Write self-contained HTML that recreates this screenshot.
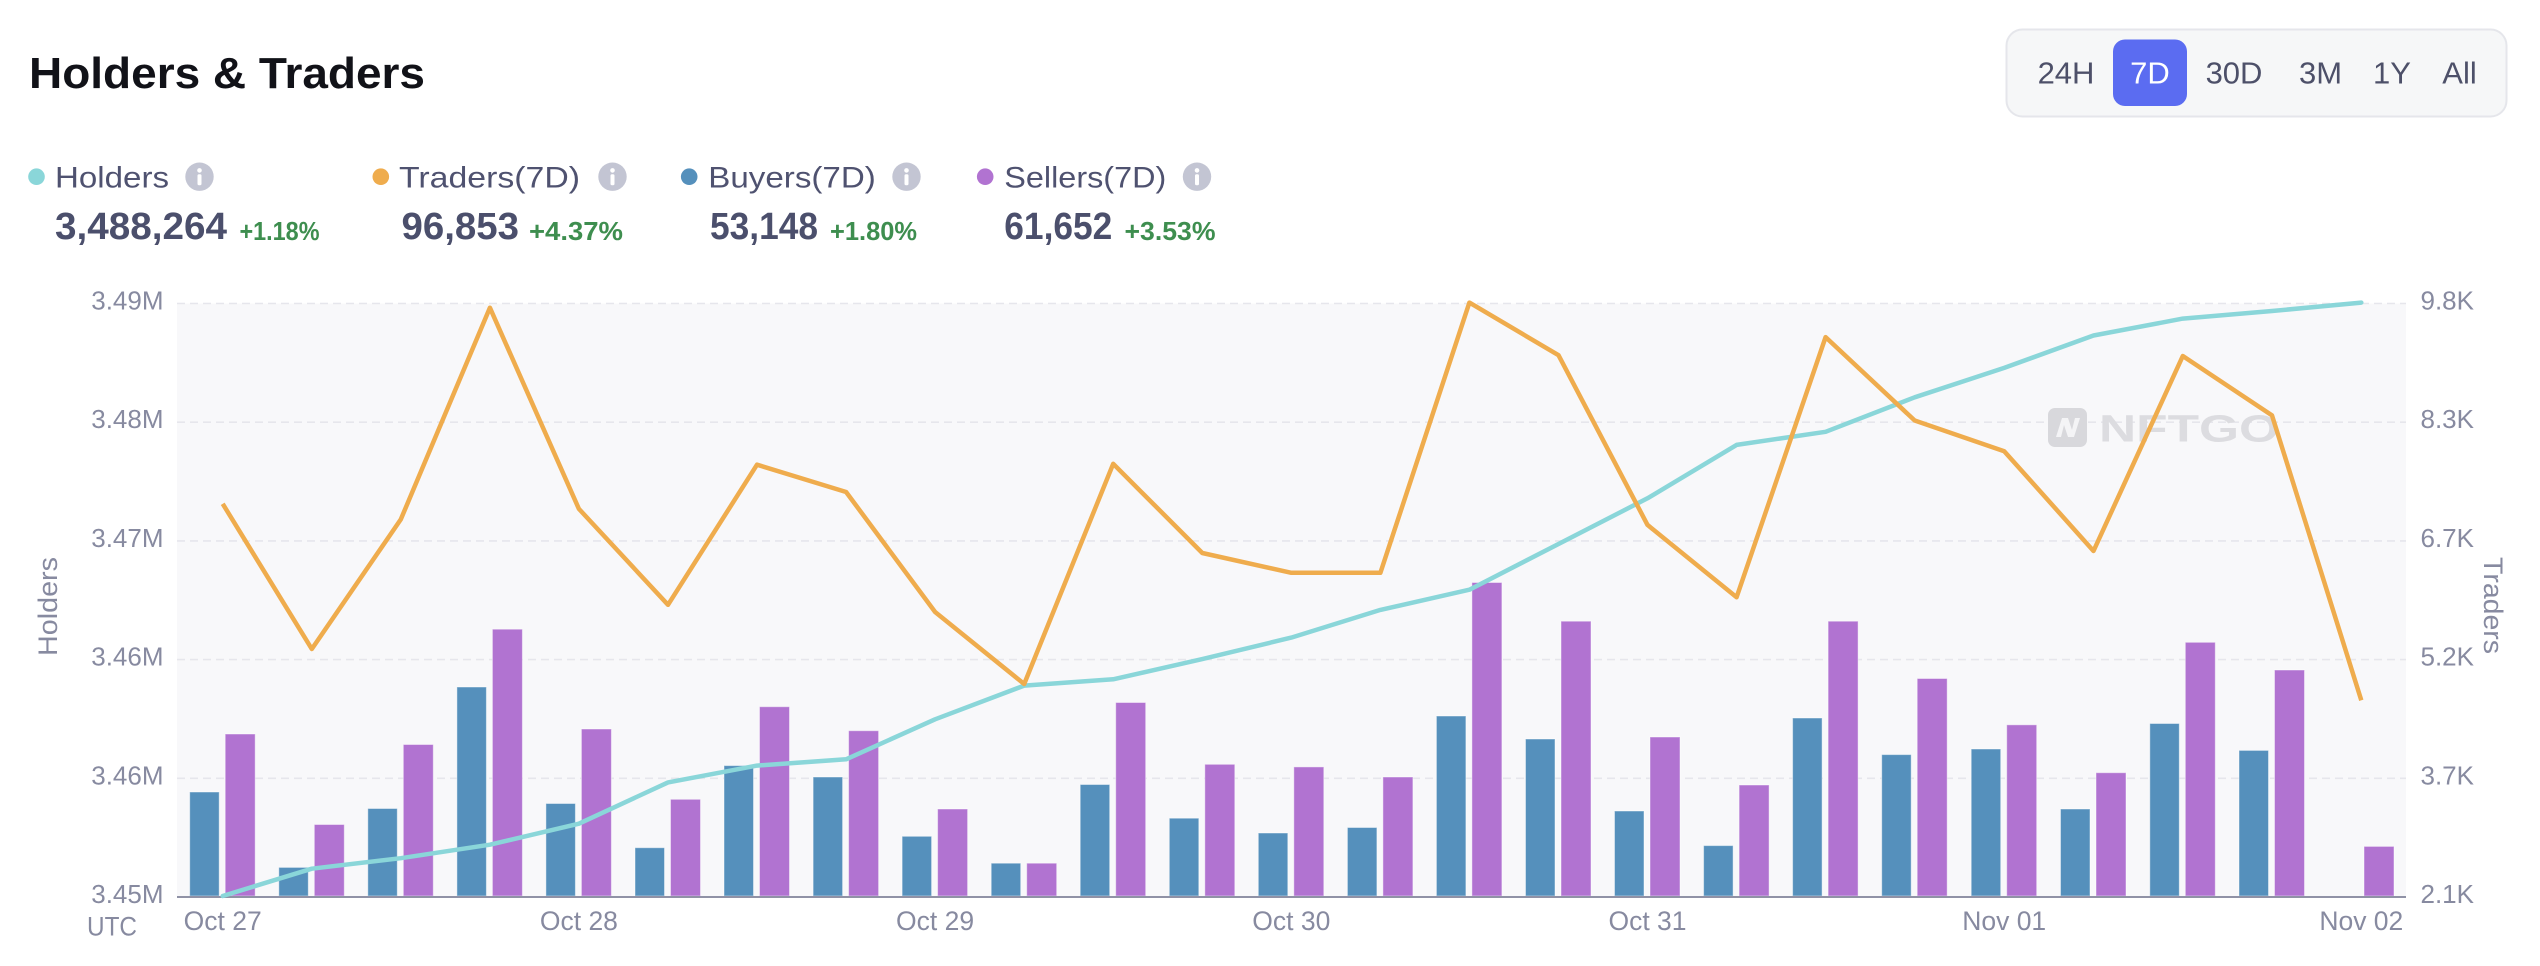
<!DOCTYPE html>
<html>
<head>
<meta charset="utf-8">
<style>
  html, body { margin: 0; padding: 0; background: #ffffff; }
  body { width: 2540px; height: 966px; overflow: hidden; }
  svg { display: block; font-family: "Liberation Sans", Arial, sans-serif; }
</style>
</head>
<body>
<svg width="2540" height="966" viewBox="0 0 2540 966" xmlns="http://www.w3.org/2000/svg">
  <rect x="0" y="0" width="2540" height="966" fill="#ffffff"/>

  <!-- Title -->
  <text x="29" y="88" font-size="44" font-weight="bold" fill="#111218" textLength="396" lengthAdjust="spacingAndGlyphs">Holders &amp; Traders</text>

  <!-- Time range selector -->
  <rect x="2006.5" y="29.5" width="500" height="87" rx="16" ry="16" fill="#f6f7f8" stroke="#e5e6eb" stroke-width="2"/>
  <rect x="2113" y="39.5" width="74" height="66.5" rx="12" ry="12" fill="#5b6cf1"/>
  <g font-size="31" fill="#4d5069" text-anchor="middle">
    <text x="2066" y="83.5">24H</text>
    <text x="2150" y="83.5" fill="#ffffff">7D</text>
    <text x="2234" y="83.5">30D</text>
    <text x="2320.5" y="83.5">3M</text>
    <text x="2392" y="83.5">1Y</text>
    <text x="2459.5" y="83.5">All</text>
  </g>

  <!-- Legend -->
  <g font-size="30" fill="#4f5270">
    <circle cx="36.5" cy="176.7" r="8.3" fill="#8ad6d9"/>
    <text x="55" y="187.3" textLength="114" lengthAdjust="spacingAndGlyphs">Holders</text>
    <circle cx="380.8" cy="176.7" r="8.3" fill="#efac4d"/>
    <text x="399" y="187.3" textLength="181" lengthAdjust="spacingAndGlyphs">Traders(7D)</text>
    <circle cx="689.2" cy="176.7" r="8.3" fill="#5590bc"/>
    <text x="708.3" y="187.3" textLength="167.5" lengthAdjust="spacingAndGlyphs">Buyers(7D)</text>
    <circle cx="985.2" cy="176.7" r="8.3" fill="#b173d1"/>
    <text x="1004.3" y="187.3" textLength="162" lengthAdjust="spacingAndGlyphs">Sellers(7D)</text>
  </g>
  <!-- info icons -->
  <g>
    <g transform="translate(199.5,176.7)">
      <circle r="14.2" fill="#c3c5d3"/><circle cx="0" cy="-6.3" r="2.3" fill="#fff"/><rect x="-2" y="-2.5" width="4" height="11" rx="1.5" fill="#fff"/>
    </g>
    <g transform="translate(612.5,176.7)">
      <circle r="14.2" fill="#c3c5d3"/><circle cx="0" cy="-6.3" r="2.3" fill="#fff"/><rect x="-2" y="-2.5" width="4" height="11" rx="1.5" fill="#fff"/>
    </g>
    <g transform="translate(906.5,176.7)">
      <circle r="14.2" fill="#c3c5d3"/><circle cx="0" cy="-6.3" r="2.3" fill="#fff"/><rect x="-2" y="-2.5" width="4" height="11" rx="1.5" fill="#fff"/>
    </g>
    <g transform="translate(1197,176.7)">
      <circle r="14.2" fill="#c3c5d3"/><circle cx="0" cy="-6.3" r="2.3" fill="#fff"/><rect x="-2" y="-2.5" width="4" height="11" rx="1.5" fill="#fff"/>
    </g>
  </g>
  <!-- values -->
  <g font-weight="bold">
    <text x="55" y="239" font-size="38" fill="#4b4f6c" textLength="172" lengthAdjust="spacingAndGlyphs">3,488,264</text>
    <text x="239.5" y="240" font-size="25.5" fill="#3e8e4f" textLength="80" lengthAdjust="spacingAndGlyphs">+1.18%</text>
    <text x="401.5" y="239" font-size="38" fill="#4b4f6c" textLength="117.5" lengthAdjust="spacingAndGlyphs">96,853</text>
    <text x="529" y="240" font-size="25.5" fill="#3e8e4f" textLength="94" lengthAdjust="spacingAndGlyphs">+4.37%</text>
    <text x="710" y="239" font-size="38" fill="#4b4f6c" textLength="108" lengthAdjust="spacingAndGlyphs">53,148</text>
    <text x="830" y="240" font-size="25.5" fill="#3e8e4f" textLength="87" lengthAdjust="spacingAndGlyphs">+1.80%</text>
    <text x="1004.3" y="239" font-size="38" fill="#4b4f6c" textLength="108" lengthAdjust="spacingAndGlyphs">61,652</text>
    <text x="1124.5" y="240" font-size="25.5" fill="#3e8e4f" textLength="91" lengthAdjust="spacingAndGlyphs">+3.53%</text>
  </g>

  <!-- Plot background -->
  <rect x="177" y="303.5" width="2229" height="593.5" fill="#f8f8fa"/>

  <!-- Grid lines -->
  <g stroke="#e6e6ec" stroke-width="1.6" stroke-dasharray="8 5">
    <line x1="177" y1="303.5" x2="2406" y2="303.5"/>
    <line x1="177" y1="422.2" x2="2406" y2="422.2"/>
    <line x1="177" y1="540.9" x2="2406" y2="540.9"/>
    <line x1="177" y1="659.6" x2="2406" y2="659.6"/>
    <line x1="177" y1="778.3" x2="2406" y2="778.3"/>
  </g>

  <!-- Watermark -->
  <g>
    <rect x="2048" y="408" width="39" height="39" rx="7" fill="#d8d8dc"/>
    <path d="M2056 437 L2062 418 L2068 418 L2072 430 L2075 418 L2080 418 L2074 437 L2068 437 L2064 425 L2061 437 Z" fill="#f4f4f6"/>
    <text x="2099" y="441.5" font-size="38" font-weight="bold" fill="#dcdce0" textLength="180" lengthAdjust="spacingAndGlyphs">NFTGO</text>
  </g>

  <!-- Left axis labels -->
  <g font-size="26" fill="#878aa0" text-anchor="end">
    <text x="163.5" y="309.5">3.49M</text>
    <text x="163.5" y="428.2">3.48M</text>
    <text x="163.5" y="546.9">3.47M</text>
    <text x="163.5" y="665.6">3.46M</text>
    <text x="163.5" y="784.3">3.46M</text>
    <text x="163.5" y="903">3.45M</text>
  </g>
  <text transform="translate(57,606.5) rotate(-90)" font-size="27" fill="#878aa0" text-anchor="middle" textLength="99" lengthAdjust="spacingAndGlyphs">Holders</text>

  <!-- Right axis labels -->
  <g font-size="26" fill="#878aa0" text-anchor="start">
    <text x="2420.5" y="309.5">9.8K</text>
    <text x="2420.5" y="428.2">8.3K</text>
    <text x="2420.5" y="546.9">6.7K</text>
    <text x="2420.5" y="665.6">5.2K</text>
    <text x="2420.5" y="784.3">3.7K</text>
    <text x="2420.5" y="903">2.1K</text>
  </g>
  <text transform="translate(2484,605.5) rotate(90)" font-size="27" fill="#878aa0" text-anchor="middle" textLength="97" lengthAdjust="spacingAndGlyphs">Traders</text>

  <!-- Bars -->
  <g fill="#5590bc" stroke="#ffffff" stroke-opacity="0.45" stroke-width="1">
    <rect x="189.7" y="792" width="29.5" height="104"/>
    <rect x="278.8" y="867.4" width="29.5" height="28.6"/>
    <rect x="367.8" y="808.5" width="29.5" height="87.5"/>
    <rect x="456.9" y="687" width="29.5" height="209"/>
    <rect x="545.9" y="803.5" width="29.5" height="92.5"/>
    <rect x="635" y="847.7" width="29.5" height="48.3"/>
    <rect x="724" y="765.6" width="29.5" height="130.4"/>
    <rect x="813.1" y="777" width="29.5" height="119"/>
    <rect x="902.1" y="836.3" width="29.5" height="59.7"/>
    <rect x="991.2" y="863.2" width="29.5" height="32.8"/>
    <rect x="1080.2" y="784.5" width="29.5" height="111.5"/>
    <rect x="1169.3" y="818.2" width="29.5" height="77.8"/>
    <rect x="1258.3" y="833" width="29.5" height="63"/>
    <rect x="1347.4" y="827.5" width="29.5" height="68.5"/>
    <rect x="1436.4" y="716" width="29.5" height="180"/>
    <rect x="1525.5" y="739" width="29.5" height="157"/>
    <rect x="1614.5" y="811" width="29.5" height="85"/>
    <rect x="1703.6" y="845.6" width="29.5" height="50.4"/>
    <rect x="1792.6" y="718" width="29.5" height="178"/>
    <rect x="1881.7" y="754.6" width="29.5" height="141.4"/>
    <rect x="1971.2" y="749" width="29.5" height="147"/>
    <rect x="2060.5" y="809" width="29.5" height="87"/>
    <rect x="2149.8" y="723.5" width="29.5" height="172.5"/>
    <rect x="2239" y="750.4" width="29.5" height="145.6"/>
  </g>
  <g fill="#b173d1" stroke="#ffffff" stroke-opacity="0.45" stroke-width="1">
    <rect x="225.2" y="734" width="30" height="162"/>
    <rect x="314.3" y="824.5" width="30" height="71.5"/>
    <rect x="403.3" y="744.5" width="30" height="151.5"/>
    <rect x="492.4" y="629.2" width="30" height="266.8"/>
    <rect x="581.4" y="729" width="30" height="167"/>
    <rect x="670.5" y="799.3" width="30" height="96.7"/>
    <rect x="759.5" y="706.7" width="30" height="189.3"/>
    <rect x="848.6" y="730.7" width="30" height="165.3"/>
    <rect x="937.6" y="809" width="30" height="87"/>
    <rect x="1026.7" y="863.2" width="30" height="32.8"/>
    <rect x="1115.7" y="702.5" width="30" height="193.5"/>
    <rect x="1204.8" y="764.3" width="30" height="131.7"/>
    <rect x="1293.8" y="766.9" width="30" height="129.1"/>
    <rect x="1382.9" y="777" width="30" height="119"/>
    <rect x="1471.9" y="582.5" width="30" height="313.5"/>
    <rect x="1561" y="621.2" width="30" height="274.8"/>
    <rect x="1650" y="737" width="30" height="159"/>
    <rect x="1739.1" y="785" width="30" height="111"/>
    <rect x="1828.1" y="621.2" width="30" height="274.8"/>
    <rect x="1917.2" y="678.5" width="30" height="217.5"/>
    <rect x="2006.7" y="724.8" width="30" height="171.2"/>
    <rect x="2096" y="772.7" width="30" height="123.3"/>
    <rect x="2185.3" y="642.3" width="30" height="253.7"/>
    <rect x="2274.5" y="670" width="30" height="226"/>
    <rect x="2364" y="846.4" width="30" height="49.6"/>
  </g>

  <!-- Axis line -->
  <line x1="177" y1="897" x2="2406" y2="897" stroke="#9092a6" stroke-width="2"/>

  <!-- Holders line -->
  <polyline fill="none" stroke="#8ad6d9" stroke-width="4.5" stroke-linejoin="round" stroke-linecap="round"
    points="222.7,896 311.8,868.7 400.8,858.2 489.9,844.7 578.9,823.7 668,782.4 757,765.6 846.1,759.3 935.1,719.3 1024.2,685.6 1113.2,679.3 1202.3,659.1 1291.3,637.6 1380.4,609.9 1469.4,589.7 1558.5,544 1647.5,498.3 1736.6,444.9 1825.6,431.8 1914.7,397.3 2004.2,367.9 2093.5,335.5 2182.8,318.6 2272,311 2361.3,302.6"/>

  <!-- Traders line -->
  <polyline fill="none" stroke="#efac4d" stroke-width="4.5" stroke-linejoin="round" stroke-linecap="butt"
    points="222.7,503.8 311.8,649 400.8,519.4 489.9,307.7 578.9,508.9 668,604.8 757,464.7 846.1,492 935.1,612 1024.2,684 1113.2,463.8 1202.3,553 1291.3,572.8 1380.4,572.8 1469.4,302.6 1558.5,355.2 1647.5,524.9 1736.6,597.2 1825.6,337.1 1914.7,420.5 2004.2,451.2 2093.5,551 2182.8,356 2272,415.4 2361.3,700.3"/>

  <!-- X axis labels -->
  <g font-size="26.5" fill="#878aa0" text-anchor="middle">
    <text x="222.7" y="930">Oct 27</text>
    <text x="578.9" y="930">Oct 28</text>
    <text x="935.1" y="930">Oct 29</text>
    <text x="1291.3" y="930">Oct 30</text>
    <text x="1647.5" y="930">Oct 31</text>
    <text x="2004.2" y="930">Nov 01</text>
    <text x="2361.3" y="930">Nov 02</text>
  </g>
  <text x="87" y="935.5" font-size="26.5" fill="#878aa0" textLength="50" lengthAdjust="spacingAndGlyphs">UTC</text>
</svg>
</body>
</html>
